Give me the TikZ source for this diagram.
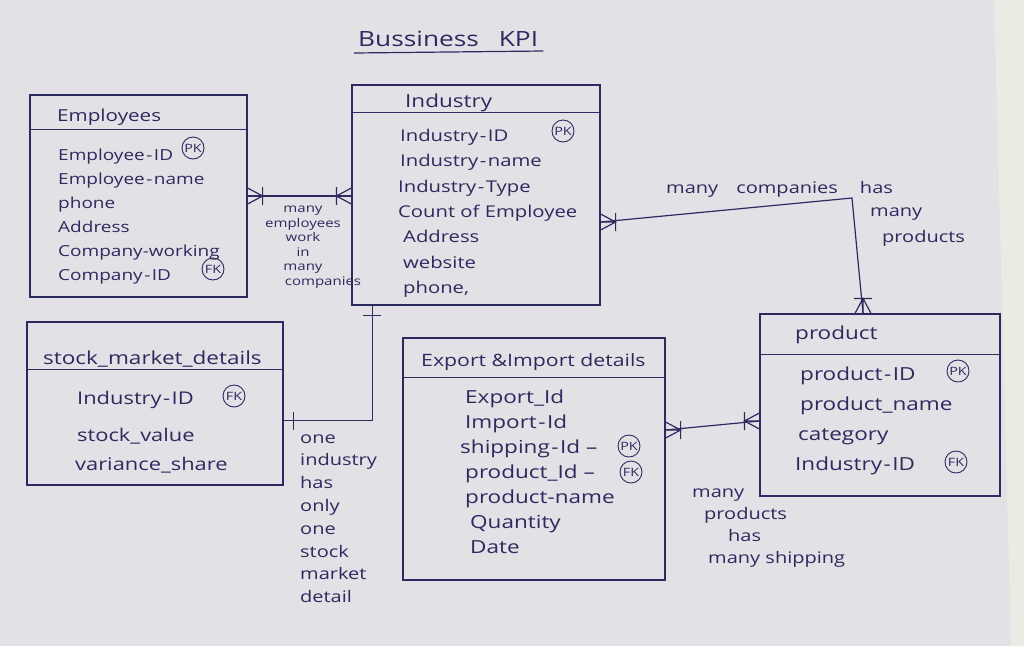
\documentclass[tikz,border=0pt]{standalone}
\usepackage{fontspec}
\setmainfont{Open Sans}[FakeStretch=1.25]
\usetikzlibrary{calc}

\definecolor{paper}{HTML}{E3E0E6}
\definecolor{backdrop}{HTML}{ECEBE3}
\definecolor{ink}{HTML}{2C2A5E}

% a hyphen with a little air around it, as in the written key names
\newcommand{\gapdash}{\kern1.5pt-\kern1.5pt}

\tikzset{
  entity/.style={draw=ink, line width=1.2pt, rectangle, inner sep=0pt},
  rule/.style={draw=ink, line width=1.2pt},
  title/.style={text=ink, anchor=base west, inner sep=0pt, font=\fontsize{#1}{21}\selectfont},
  title/.default=18,
  attr/.style={text=ink, anchor=base west, inner sep=0pt, font=\fontsize{#1}{20}\selectfont},
  attr/.default=17,
  keytag/.style={draw=ink, circle, line width=0.9pt, inner sep=0pt, minimum size=22pt,
    text=ink, font=\fontsize{11.5}{11.5}\selectfont},
  note/.style={text=ink, inner sep=0pt, font=\fontsize{16}{22.8}\selectfont},
  link/.style={draw=ink, line width=1.2pt},
  many/.pic={\draw[link] (0,-8) -- (15,0) -- (0,8) (0,0) -- (15,0) (15,-9) -- (15,9);},
  one/.pic={\draw[link] (10,-9) -- (10,9);}
}

\begin{document}
\begin{tikzpicture}[x=1pt,y=-1pt]
% sheet of paper and the table behind its right edge
\fill[paper] (0,0) rectangle (1024,646);
\fill[backdrop] (994,0) -- (1024,0) -- (1024,646) -- (1011,646) -- (1002,300) -- cycle;
\useasboundingbox (0,0) rectangle (1024,646);

% heading
\node[text=ink, inner sep=0pt, anchor=base west, font=\fontsize{21}{23}\selectfont] (heading) at (358,46) {Bussiness\hspace{20pt}KPI};
\draw[rule] ([xshift=-4pt,yshift=-7pt]heading.base west) -- ([xshift=5pt,yshift=-5pt]heading.base east);

% Employees
\node[entity, minimum width=217pt, minimum height=202pt] (emp) at (138.5,196) {};
\draw[rule] ($(emp.north west)+(0,35)$) -- ($(emp.north east)+(0,35)$);
\node[title=16.5] (empT) at (57,121) {Employees};
\node[attr=15.2] (emp1) at (58,160) {Employee\gapdash ID};
\node[attr=15.2] (emp2) at (58,184) {Employee\gapdash name};
\node[attr=15.2] (emp3) at (58,208) {phone};
\node[attr=15.2] (emp4) at (58,232) {Address};
\node[attr=15.2] (emp5) at (58,256) {Company-working};
\node[attr=15.2] (emp6) at (58,280) {Company\gapdash ID};
\node[keytag] (empPK) at (193,148) {PK};
\node[keytag] (empFK) at (213,269) {FK};

% Industry
\node[entity, minimum width=248pt, minimum height=220pt] (ind) at (476,195) {};
\draw[rule] ($(ind.north west)+(0,28)$) -- ($(ind.north east)+(0,28)$);
\node[title] (indT) at (405,107) {Industry};
\node[attr=16.2] (ind1) at (400,141) {Industry\gapdash ID};
\node[attr=16.2] (ind2) at (400,166) {Industry\gapdash name};
\node[attr=16.2] (ind3) at (398,192) {Industry\gapdash Type};
\node[attr=16.2] (ind4) at (398,217) {Count of Employee};
\node[attr=16.2] (ind5) at (403,242) {Address};
\node[attr=16.2] (ind6) at (403,268) {website};
\node[attr=16.2] (ind7) at (403,293) {phone,};
\node[keytag] (indPK) at (563,131) {PK};

% stock market details
\node[entity, minimum width=256pt, minimum height=163pt] (stk) at (155,403.5) {};
\draw[rule] ($(stk.north west)+(0,48)$) -- ($(stk.north east)+(0,48)$);
\node[title] (stkT) at (43,364) {stock\_market\_details};
\node[attr=17.5] (stk1) at (77,404) {Industry\gapdash ID};
\node[attr=17.5] (stk2) at (77,441) {stock\_value};
\node[attr=17.5] (stk3) at (75,470) {variance\_share};
\node[keytag] (stkFK) at (234,396) {FK};

% Export & Import details
\node[entity, minimum width=262pt, minimum height=242pt] (trade) at (534,459) {};
\draw[rule] ($(trade.north west)+(0,40)$) -- ($(trade.north east)+(0,40)$);
\node[title=17] (tradeT) at (421,366) {Export \&Import details};
\node[attr=18] (trade1) at (465,403) {Export\_Id};
\node[attr=18] (trade2) at (465,428) {Import\gapdash Id};
\node[attr=18] (trade3) at (460,453) {shipping\gapdash Id\,\,--};
\node[attr=18] (trade4) at (465,478) {product\_Id\,\,--};
\node[attr=18] (trade5) at (465,503) {product-name};
\node[attr=18] (trade6) at (470,528) {Quantity};
\node[attr=18] (trade7) at (470,553) {Date};
\node[keytag] (tradePK) at (629,446) {PK};
\node[keytag] (tradeFK) at (631,472) {FK};

% product
\node[entity, minimum width=240pt, minimum height=182pt] (prod) at (880,405) {};
\draw[rule] ($(prod.north west)+(0,41)$) -- ($(prod.north east)+(0,41)$);
\node[title] (prodT) at (795,339) {product};
\node[attr=18] (prod1) at (800,380) {product\gapdash ID};
\node[attr=18] (prod2) at (800,410) {product\_name};
\node[attr=18] (prod3) at (798,440) {category};
\node[attr=18] (prod4) at (795,470) {Industry\gapdash ID};
\node[keytag] (prodPK) at (958,371) {PK};
\node[keytag] (prodFK) at (956,462) {FK};

% Employees -- Industry (many to many)
\coordinate (eiA) at (emp.east);
\coordinate (eiB) at (emp.east -| ind.west);
\draw[link] (eiA) -- (eiB);
\pic at (eiA) {many};
\pic[rotate=180] at (eiB) {many};
\node[note, align=center, font=\fontsize{12}{14.5}\selectfont] (eiNote) at (303,247)
  {many\\employees\\work\\in\\many\hspace*{30pt}\\\hspace*{40pt}companies};

% Industry -- product (many to many)
\coordinate (ipA) at ([yshift=-27pt]ind.east);
\coordinate (ipBend) at (852,198);
\coordinate (ipB) at ([xshift=-17pt]prod.north);
\draw[link] (ipA) -- (ipBend) -- (ipB);
\pic at (ipA) {many};
\pic[rotate=90] at (ipB) {many};
\node[note, anchor=base west] (ipNoteA) at (666,193) {many\hspace{18pt}companies\hspace{22pt}has};
\node[note, anchor=north west, align=left, font=\fontsize{16}{26}\selectfont] (ipNoteB) at (870,198) {\strut many\\\hspace*{12pt}products};

% Industry -- stock market details (one to one)
\coordinate (siA) at ($(ind.south west)+(21,0)$);
\coordinate (siB) at ([yshift=-17pt]stk.east);
\draw[link] (siA) |- (siB);
\pic[rotate=-90] at (siA) {one};
\pic at (siB) {one};
\node[note, anchor=north west, align=left] (siNote) at (300,427) {\strut one\\industry\\has\\only\\one\\stock\\market\\detail};

% Export & Import details -- product (many to many)
\coordinate (epA) at ([yshift=29pt]trade.east);
\coordinate (epB) at ([yshift=-16pt]prod.west);
\draw[link] (epA) -- (epB);
\pic at (epA) {many};
\pic[rotate=180] at (epB) {many};
\node[note, anchor=north west, align=left, font=\fontsize{16}{22}\selectfont] (epNote) at (692,481.6)
  {\strut many\\\hspace*{12pt}products\\\hspace*{36pt}has\\\hspace*{16pt}many shipping};
\end{tikzpicture}
\end{document}
